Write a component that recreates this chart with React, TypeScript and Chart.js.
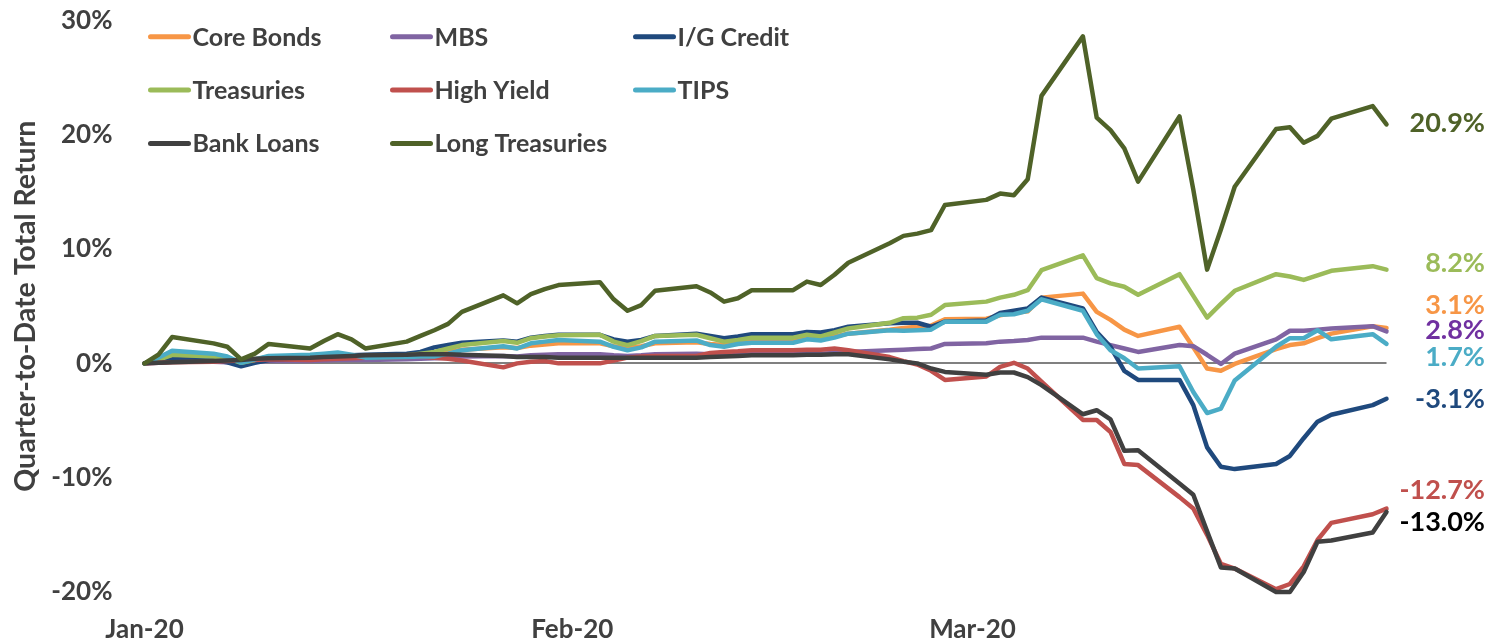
import React, { useEffect, useRef } from "react";
import { Chart, registerables } from "chart.js";

Chart.register(...registerables);

// ---- Data ----
const dates = [
  "2020-01-01", "2020-01-02", "2020-01-03", "2020-01-06", "2020-01-07", "2020-01-08", "2020-01-09", "2020-01-10",
  "2020-01-13", "2020-01-14", "2020-01-15", "2020-01-16", "2020-01-17", "2020-01-20", "2020-01-21", "2020-01-22",
  "2020-01-23", "2020-01-24", "2020-01-27", "2020-01-28", "2020-01-29", "2020-01-30", "2020-01-31",
  "2020-02-03", "2020-02-04", "2020-02-05", "2020-02-06", "2020-02-07", "2020-02-10", "2020-02-11", "2020-02-12",
  "2020-02-13", "2020-02-14", "2020-02-17", "2020-02-18", "2020-02-19", "2020-02-20", "2020-02-21", "2020-02-24",
  "2020-02-25", "2020-02-26", "2020-02-27", "2020-02-28",
  "2020-03-02", "2020-03-03", "2020-03-04", "2020-03-05", "2020-03-06", "2020-03-09", "2020-03-10", "2020-03-11",
  "2020-03-12", "2020-03-13", "2020-03-16", "2020-03-17", "2020-03-18", "2020-03-19", "2020-03-20", "2020-03-23",
  "2020-03-24", "2020-03-25", "2020-03-26", "2020-03-27", "2020-03-30", "2020-03-31",
];

const seriesNames = [
  "Core Bonds", "MBS", "I/G Credit", "Treasuries", "High Yield", "TIPS", "Bank Loans", "Long Treasuries",
];

const coreBonds = [
  0, 0.15, 0.45, 0.4, 0.25, 0.0, 0.2, 0.35, 0.4, 0.45, 0.55, 0.5, 0.45, 0.55, 0.7, 0.85, 1.0, 1.2, 1.4, 1.35, 1.55, 1.65, 1.75,
  1.75, 1.5, 1.35, 1.5, 1.75, 1.85, 1.7, 1.6, 1.8, 1.95, 1.95, 2.2, 2.15, 2.35, 2.6, 2.95, 3.1, 3.2, 3.3, 3.85,
  3.9, 4.2, 4.4, 4.55, 5.75, 6.1, 4.5, 3.8, 2.95, 2.4, 3.2, 1.4, -0.45, -0.65, -0.05, 1.25, 1.6, 1.75, 2.2, 2.6, 3.25, 3.1,
];
const mbs = [
  0, 0.05, 0.15, 0.15, 0.1, 0.05, 0.15, 0.2, 0.2, 0.25, 0.3, 0.3, 0.3, 0.35, 0.4, 0.45, 0.5, 0.6, 0.65, 0.6, 0.7, 0.75, 0.8,
  0.8, 0.7, 0.65, 0.7, 0.8, 0.85, 0.8, 0.75, 0.75, 0.8, 0.8, 0.85, 0.85, 0.9, 1.0, 1.15, 1.2, 1.25, 1.3, 1.7,
  1.75, 1.9, 1.95, 2.05, 2.25, 2.25, 1.9, 1.6, 1.3, 1.0, 1.6, 1.5, 0.75, -0.05, 0.85, 2.1, 2.85, 2.85, 2.95, 3.05, 3.25, 2.8,
];
const igCredit = [
  0, 0.15, 0.35, 0.3, 0.1, -0.25, 0.05, 0.3, 0.4, 0.5, 0.6, 0.7, 0.75, 0.85, 1.0, 1.4, 1.6, 1.8, 2.0, 1.9, 2.25, 2.4, 2.5,
  2.5, 2.1, 1.9, 2.05, 2.4, 2.6, 2.4, 2.2, 2.35, 2.55, 2.55, 2.75, 2.7, 2.9, 3.2, 3.5, 3.55, 3.55, 3.2, 3.65,
  3.75, 4.4, 4.6, 4.8, 5.75, 4.8, 2.75, 1.45, -0.65, -1.45, -1.45, -3.65, -7.35, -9.05, -9.25, -8.8, -8.1, -6.55, -5.1, -4.5, -3.65, -3.1,
];
const treasuries = [
  0, 0.3, 0.75, 0.6, 0.45, 0.05, 0.3, 0.6, 0.55, 0.65, 0.75, 0.65, 0.55, 0.7, 0.85, 1.0, 1.3, 1.6, 1.95, 1.8, 2.2, 2.35, 2.45,
  2.5, 1.9, 1.6, 1.95, 2.4, 2.5, 2.2, 1.9, 2.05, 2.25, 2.25, 2.5, 2.35, 2.7, 3.05, 3.55, 3.95, 4.0, 4.25, 5.1,
  5.4, 5.75, 6.0, 6.4, 8.15, 9.45, 7.45, 7.0, 6.7, 6.0, 7.8, 5.9, 4.0, 5.2, 6.35, 7.8, 7.6, 7.3, 7.7, 8.1, 8.5, 8.2,
];
const highYield = [
  0, 0.05, 0.1, 0.15, 0.2, 0.25, 0.3, 0.35, 0.3, 0.35, 0.4, 0.45, 0.5, 0.55, 0.6, 0.5, 0.4, 0.25, -0.35, 0.0, 0.15, 0.2, 0.0,
  0.0, 0.25, 0.5, 0.6, 0.65, 0.65, 0.9, 1.0, 1.05, 1.15, 1.15, 1.2, 1.2, 1.3, 1.15, 0.55, 0.2, -0.1, -0.65, -1.45,
  -1.15, -0.3, 0.05, -0.45, -1.6, -4.95, -4.95, -6.0, -8.8, -8.9, -11.7, -12.7, -15.0, -17.55, -17.95, -19.75, -19.3, -17.75, -15.45, -13.95, -13.2, -12.7,
];
const tips = [
  0, 0.5, 1.1, 0.85, 0.6, 0.05, 0.35, 0.65, 0.75, 0.85, 0.95, 0.75, 0.5, 0.55, 0.6, 0.6, 0.85, 1.15, 1.5, 1.3, 1.75, 1.9, 2.05,
  1.9, 1.45, 1.15, 1.4, 1.9, 2.0, 1.6, 1.45, 1.7, 1.8, 1.8, 2.1, 2.0, 2.25, 2.6, 2.9, 2.85, 2.9, 2.95, 3.65,
  3.65, 4.25, 4.3, 4.6, 5.6, 4.6, 2.55, 1.15, 0.45, -0.45, -0.25, -2.5, -4.35, -3.95, -1.5, 1.45, 2.2, 2.2, 2.9, 2.1, 2.55, 1.7,
];
const bankLoans = [
  0, 0.05, 0.1, 0.2, 0.25, 0.3, 0.4, 0.45, 0.5, 0.55, 0.6, 0.65, 0.7, 0.75, 0.8, 0.8, 0.8, 0.75, 0.65, 0.55, 0.55, 0.55, 0.5,
  0.5, 0.5, 0.5, 0.5, 0.5, 0.5, 0.55, 0.6, 0.65, 0.7, 0.7, 0.75, 0.75, 0.8, 0.8, 0.35, 0.15, 0.0, -0.45, -0.75,
  -1.0, -0.8, -0.8, -1.2, -1.9, -4.45, -4.1, -4.9, -7.65, -7.6, -10.5, -11.5, -14.7, -17.85, -17.95, -20.0, -20.0, -18.25, -15.6, -15.5, -14.8, -13.0,
];
const longTreasuries = [
  0, 0.75, 2.3, 1.75, 1.45, 0.35, 0.85, 1.7, 1.3, 1.95, 2.55, 2.1, 1.3, 1.9, 2.4, 2.9, 3.45, 4.5, 5.95, 5.25, 6.05, 6.5, 6.85,
  7.1, 5.6, 4.6, 5.1, 6.35, 6.75, 6.2, 5.4, 5.7, 6.4, 6.4, 7.15, 6.85, 7.75, 8.8, 10.5, 11.15, 11.35, 11.65, 13.85,
  14.3, 14.85, 14.7, 16.1, 23.4, 28.6, 21.5, 20.4, 18.8, 15.9, 21.6, 15.2, 8.2, 11.7, 15.45, 20.5, 20.65, 19.3, 19.9, 21.4, 22.5, 20.9,
];

const xTickDates = ["2020-01-01", "2020-02-01", "2020-03-01"];
const xTickLabels = ["Jan-20", "Feb-20", "Mar-20"];
const yTicks = [-20, -10, 0, 10, 20, 30];
const yTitle = "Quarter-to-Date Total Return";

// ---- Styles ----
const allSeries = [coreBonds, mbs, igCredit, treasuries, highYield, tips, bankLoans, longTreasuries];
const lineColors = ["#F79646", "#8064A2", "#1F497D", "#9BBB59", "#C0504D", "#4BACC6", "#404040", "#4F6228"];
const endLabelColors = ["#F79646", "#7030A0", "#1F497D", "#9BBB59", "#C0504D", "#4BACC6", "#000000", "#4F6228"];
const endLabelShift = [-23, -1, 0, -6, -18, 13, 10, -1];
const FONT = "Lato, 'Open Sans', sans-serif";
const TEXT = "#404040";
const PLOT_TOP = 20.4;

const dayIndex = (s: string) =>
  Math.round((Date.parse(s + "T00:00:00Z") - Date.parse("2020-01-01T00:00:00Z")) / 86400000);

const legendPlugin = {
  id: "customLegend",
  afterDraw(chart: any) {
    const { ctx, chartArea } = chart;
    const colX = [chartArea.left + 4, chartArea.left + 246, chartArea.left + 489];
    const rowY = [chartArea.top + 16.3, chartArea.top + 69.6, chartArea.top + 123];
    ctx.save();
    ctx.font = `bold 25px ${FONT}`;
    ctx.textBaseline = "middle";
    ctx.textAlign = "left";
    seriesNames.forEach((name, i) => {
      const x = colX[i % 3];
      const y = rowY[Math.floor(i / 3)];
      ctx.strokeStyle = lineColors[i];
      ctx.lineWidth = 5;
      ctx.lineCap = "round";
      ctx.beginPath();
      ctx.moveTo(x + 2, y);
      ctx.lineTo(x + 40, y);
      ctx.stroke();
      ctx.fillStyle = TEXT;
      ctx.fillText(name, x + 44, y + 1);
    });
    ctx.restore();
  },
};

const endLabelPlugin = {
  id: "endLabels",
  afterDatasetsDraw(chart: any) {
    const { ctx, chartArea } = chart;
    const yScale = chart.scales.y;
    ctx.save();
    ctx.font = `bold 27px ${FONT}`;
    ctx.textBaseline = "middle";
    ctx.textAlign = "right";
    allSeries.forEach((vals, i) => {
      const last = vals[vals.length - 1];
      const y = yScale.getPixelForValue(last) + endLabelShift[i];
      ctx.fillStyle = endLabelColors[i];
      ctx.fillText(last.toFixed(1) + "%", chartArea.right + 98.5, y);
    });
    ctx.restore();
  },
};

export default function App() {
  const ref = useRef<HTMLCanvasElement>(null);

  useEffect(() => {
    if (!ref.current) return;
    const datasets = allSeries.map((vals, i) => ({
      label: seriesNames[i],
      data: vals.map((v, j) => ({ x: dayIndex(dates[j]), y: v })),
      borderColor: lineColors[i],
      backgroundColor: lineColors[i],
      borderWidth: 4.5,
      pointRadius: 0,
      tension: 0,
      fill: false,
      borderJoinStyle: "round" as const,
      borderCapStyle: "round" as const,
      order: allSeries.length - i,
      clip: false as const,
    }));

    const chart = new Chart(ref.current, {
      type: "line",
      data: { datasets },
      options: {
        responsive: false,
        animation: false,
        devicePixelRatio: 1,
        layout: { padding: { left: 0, right: 110.5, top: PLOT_TOP, bottom: 0 } },
        plugins: { legend: { display: false }, tooltip: { enabled: false } },
        scales: {
          x: {
            type: "linear",
            min: 0,
            max: 90,
            grid: { display: false, drawTicks: false },
            border: { display: false },
            afterBuildTicks: (s: any) => {
              s.ticks = xTickDates.map((d) => ({ value: dayIndex(d) }));
            },
            ticks: {
              autoSkip: false,
              maxRotation: 0,
              padding: 22.5,
              color: TEXT,
              font: { family: FONT, size: 26, weight: "bold" },
              callback: (v: any) => {
                const k = xTickDates.findIndex((d) => dayIndex(d) === v);
                return k >= 0 ? xTickLabels[k] : "";
              },
            },
            afterFit: (s: any) => {
              s.height = 47;
            },
          },
          y: {
            min: -20,
            max: 30,
            afterBuildTicks: (s: any) => {
              s.ticks = yTicks.map((v) => ({ value: v }));
            },
            grid: {
              drawTicks: false,
              lineWidth: 2,
              color: (c: any) => (c.tick && c.tick.value === 0 ? "#808080" : "rgba(0,0,0,0)"),
            },
            border: { display: false },
            ticks: {
              padding: 32,
              color: TEXT,
              font: { family: FONT, size: 26, weight: "bold" },
              callback: (v: any) => v + "%",
            },
            title: {
              display: true,
              text: yTitle,
              color: TEXT,
              font: { family: FONT, size: 28.5, weight: "bold" },
              padding: { top: 9, bottom: 0 },
            },
            afterFit: (s: any) => {
              s.width = 144.5;
              s.paddingTop = 0;
              s.paddingBottom = 0;
            },
          },
        },
      },
      plugins: [
        legendPlugin,
        endLabelPlugin,
        {
          id: "fixArea",
          afterLayout(chart: any) {
            // keep the plot area where the reference has it
            const y = chart.scales.y;
            const x = chart.scales.x;
            const bottom = chart.chartArea.bottom;
            if (Math.abs(chart.chartArea.top - PLOT_TOP) > 0.5) {
              chart.chartArea.top = PLOT_TOP;
              chart.chartArea.height = bottom - PLOT_TOP;
              y.top = PLOT_TOP;
              y.height = bottom - PLOT_TOP;
              y.configure();
              x.configure();
            }
          },
        },
      ],
    });
    return () => chart.destroy();
  }, []);

  return (
    <div style={{ position: "fixed", left: 0, top: 0, width: 1497, height: 639, background: "#fff" }}>
      <canvas ref={ref} width={1497} height={639} style={{ display: "block" }} />
    </div>
  );
}
